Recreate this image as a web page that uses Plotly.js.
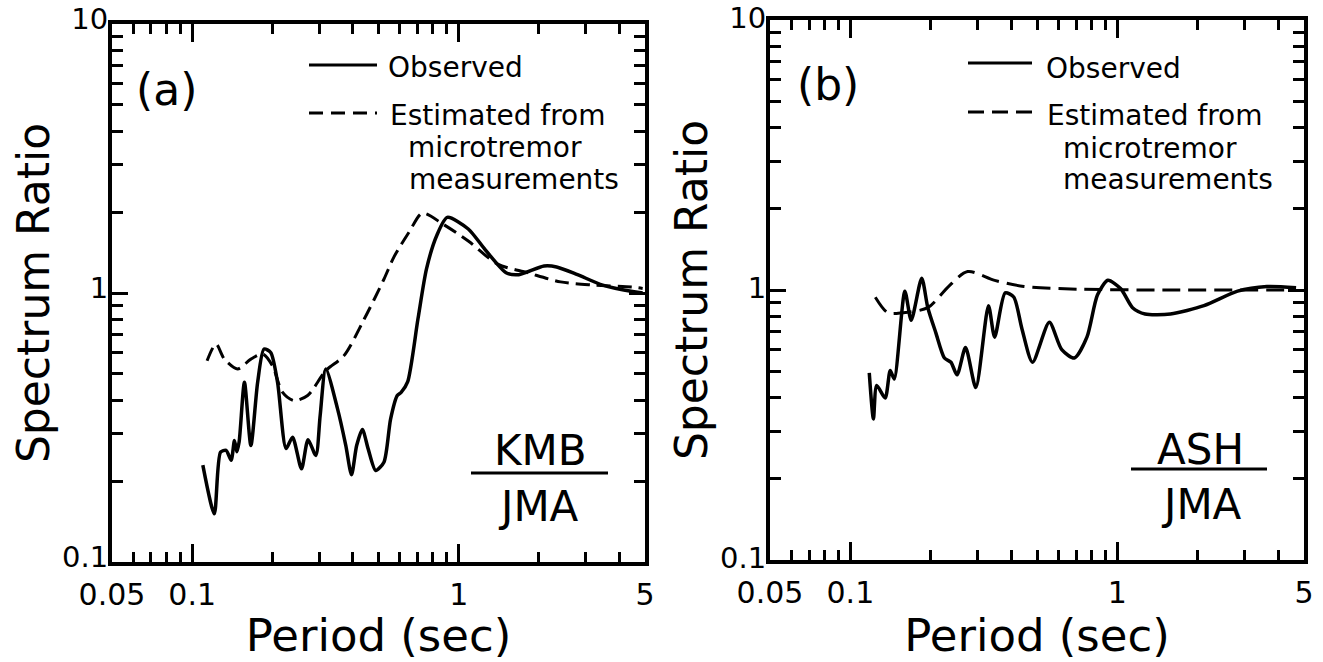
<!DOCTYPE html>
<html>
<head>
<meta charset="utf-8">
<script src="https://cdn.plot.ly/plotly-3.0.1.min.js"></script>
<style>
html,body{margin:0;padding:0;background:#fff;}
#chart{width:1323px;height:662px;}
</style>
</head>
<body>
<div id="chart"></div>
<script>
// ---- Panel (a): KMB / JMA ----
var obsA_x = [0.1096,0.121,0.1277,0.134,0.140,0.144,0.147,0.150,0.157,0.166,0.176,0.186,0.197,0.209,0.225,0.238,0.257,0.272,0.291,0.302,0.317,0.351,0.377,0.396,0.414,0.435,0.457,0.488,0.524,0.555,0.588,0.608,0.643,0.703,0.757,0.828,0.906,1.086,1.256,1.506,1.68,2.09,2.33,2.79,3.47,4.55,4.9];
var obsA_y = [0.229,0.151,0.256,0.260,0.239,0.283,0.257,0.280,0.466,0.271,0.466,0.619,0.601,0.466,0.264,0.291,0.222,0.285,0.249,0.350,0.522,0.371,0.271,0.211,0.271,0.311,0.264,0.219,0.235,0.340,0.416,0.427,0.467,0.800,1.23,1.64,1.91,1.73,1.45,1.19,1.17,1.26,1.25,1.17,1.07,1.01,1.00];
var estA_x = [0.1137,0.1228,0.132,0.148,0.166,0.184,0.200,0.218,0.241,0.271,0.317,0.371,0.442,0.524,0.571,0.655,0.730,0.875,1.086,1.40,1.81,2.41,3.22,4.55,4.9];
var estA_y = [0.560,0.646,0.568,0.522,0.568,0.593,0.537,0.428,0.398,0.416,0.514,0.585,0.800,1.125,1.36,1.70,1.98,1.80,1.56,1.28,1.19,1.10,1.07,1.05,1.04];

// ---- Panel (b): ASH / JMA ----
var obsB_x = [0.1177,0.122,0.1255,0.135,0.141,0.146,0.160,0.169,0.185,0.195,0.209,0.225,0.238,0.251,0.270,0.295,0.329,0.347,0.380,0.409,0.439,0.481,0.556,0.619,0.690,0.769,0.842,0.921,1.03,1.14,1.27,1.58,2.11,2.82,3.63,4.67];
var obsB_y = [0.493,0.333,0.443,0.398,0.503,0.468,0.99,0.773,1.105,0.86,0.694,0.560,0.540,0.485,0.612,0.435,0.875,0.669,0.976,0.942,0.719,0.540,0.759,0.601,0.560,0.669,0.958,1.086,1.01,0.86,0.815,0.815,0.875,0.99,1.03,1.02];
var estB_x = [0.124,0.138,0.157,0.195,0.233,0.275,0.347,0.447,0.714,1.47,4.67];
var estB_y = [0.94,0.824,0.824,0.86,1.03,1.17,1.086,1.03,1.007,1.0,1.0];

// ---- Axis ticks ----
var xTickVals = [0.05, 0.1, 1, 5];
var xTickText = ["0.05", "0.1", "1", "5"];
var xMinorVals = [0.06,0.07,0.08,0.09,0.2,0.3,0.4,0.5,0.6,0.7,0.8,0.9,2,3,4];
var yTickVals = [0.1, 1, 10];
var yTickText = ["0.1", "1", "10"];
var yMinorVals = [0.2,0.3,0.4,0.5,0.6,0.7,0.8,0.9,2,3,4,5,6,7,8,9];

var W = 1323, H = 662;
function px(x){ return x / W; }
function py(y){ return 1 - y / H; }

var FONT = "DejaVu Sans, Arial, sans-serif";

function xAxis(domain, anchor){
  return {
    type:'log', range:[Math.log10(0.05), Math.log10(5)], domain:domain, anchor:anchor,
    showline:true, linewidth:4, linecolor:'#000', mirror:'ticks',
    ticks:'inside', ticklen:18, tickwidth:3, tickcolor:'#000',
    tickmode:'array', tickvals:xTickVals, ticktext:xTickText,
    minor:{tickmode:'array', tickvals:xMinorVals, ticks:'inside', ticklen:10, tickwidth:3, tickcolor:'#000', showgrid:false},
    showgrid:false, zeroline:false,
    tickfont:{family:FONT, size:30, color:'#000'},
    ticklabelstandoff:3,
    ticklabeloverflow:'allow',
    title:{text:'Period (sec)', font:{family:FONT, size:45, color:'#000'}, standoff:6},
    automargin:false
  };
}
function yAxis(domain, anchor, shift){
  return {
    type:'log', range:[-1, 1], domain:domain, anchor:anchor,
    showline:true, linewidth:4, linecolor:'#000', mirror:'ticks',
    ticks:'inside', ticklen:16, tickwidth:3, tickcolor:'#000',
    tickmode:'array', tickvals:yTickVals, ticktext:yTickText,
    minor:{tickmode:'array', tickvals:yMinorVals, ticks:'inside', ticklen:11, tickwidth:3, tickcolor:'#000', showgrid:false},
    showgrid:false, zeroline:false,
    tickfont:{family:FONT, size:29, color:'#000'},
    ticklabelstandoff:-6,
    ticklabelshift:shift,
    ticklabeloverflow:'allow',
    title:{text:'Spectrum Ratio', font:{family:FONT, size:44, color:'#000'}, standoff:0},
    automargin:false
  };
}

var traces = [
  {x:obsA_x, y:obsA_y, xaxis:'x', yaxis:'y', mode:'lines', line:{color:'#000', width:3.5, shape:'spline', smoothing:0.7}, name:'Observed', showlegend:false},
  {x:estA_x, y:estA_y, xaxis:'x', yaxis:'y', mode:'lines', line:{color:'#000', width:3, dash:'14px,7px', shape:'spline', smoothing:0.8}, name:'Estimated from microtremor measurements', showlegend:false},
  {x:obsB_x, y:obsB_y, xaxis:'x2', yaxis:'y2', mode:'lines', line:{color:'#000', width:3.5, shape:'spline', smoothing:0.7}, name:'Observed', showlegend:false},
  {x:estB_x, y:estB_y, xaxis:'x2', yaxis:'y2', mode:'lines', line:{color:'#000', width:3, dash:'18px,8px', shape:'spline', smoothing:0.8}, name:'Estimated from microtremor measurements', showlegend:false}
];

function ann(text, x, y, size, xanchor){
  return {text:text, x:px(x), y:py(y), xref:'paper', yref:'paper', showarrow:false,
    xanchor:xanchor||'center', yanchor:'middle', borderpad:0,
    font:{family:FONT, size:size, color:'#000'}};
}
function hline(x0, x1, y, w, dash){
  return {type:'line', xref:'paper', yref:'paper', x0:px(x0), x1:px(x1), y0:py(y), y1:py(y),
    line:{color:'#000', width:w, dash:dash||'solid'}};
}

var LEG = 28;
var annotations = [
  ann('(a)', 166, 90, 44),
  ann('Observed', 387, 67, LEG, 'left'),
  ann('Estimated from', 389, 115, LEG, 'left'),
  ann('microtremor', 407, 147, LEG, 'left'),
  ann('measurements', 408, 179, LEG, 'left'),
  ann('KMB', 540, 450, 42),
  ann('JMA', 538, 506, 42),
  ann('(b)', 828, 84, 44),
  ann('Observed', 1045, 68, LEG, 'left'),
  ann('Estimated from', 1046, 116, LEG, 'left'),
  ann('microtremor', 1062, 148, LEG, 'left'),
  ann('measurements', 1062, 180, LEG, 'left'),
  ann('ASH', 1200, 449, 42),
  ann('JMA', 1201, 504, 42)
];

var shapes = [
  hline(309, 377, 65, 3),
  hline(309, 377, 113, 3, '14px,8px'),
  hline(471, 608, 473, 3),
  hline(968, 1032, 63, 3),
  hline(968, 1032, 112, 3, '16px,8px'),
  hline(1131, 1267, 469, 3)
];

var layout = {
  width:W, height:H,
  margin:{l:0, r:0, t:0, b:0},
  paper_bgcolor:'#fff', plot_bgcolor:'#fff',
  showlegend:false,
  xaxis: xAxis([112/W, 645/W], 'y'),
  yaxis: yAxis([1-562/H, 1-24/H], 'x', -5),
  xaxis2: xAxis([770/W, 1304/W], 'y2'),
  yaxis2: yAxis([1-560/H, 1-20/H], 'x2', -2),
  annotations: annotations,
  shapes: shapes
};

Plotly.newPlot('chart', traces, layout, {staticPlot:true, displayModeBar:false});
</script>
</body>
</html>
